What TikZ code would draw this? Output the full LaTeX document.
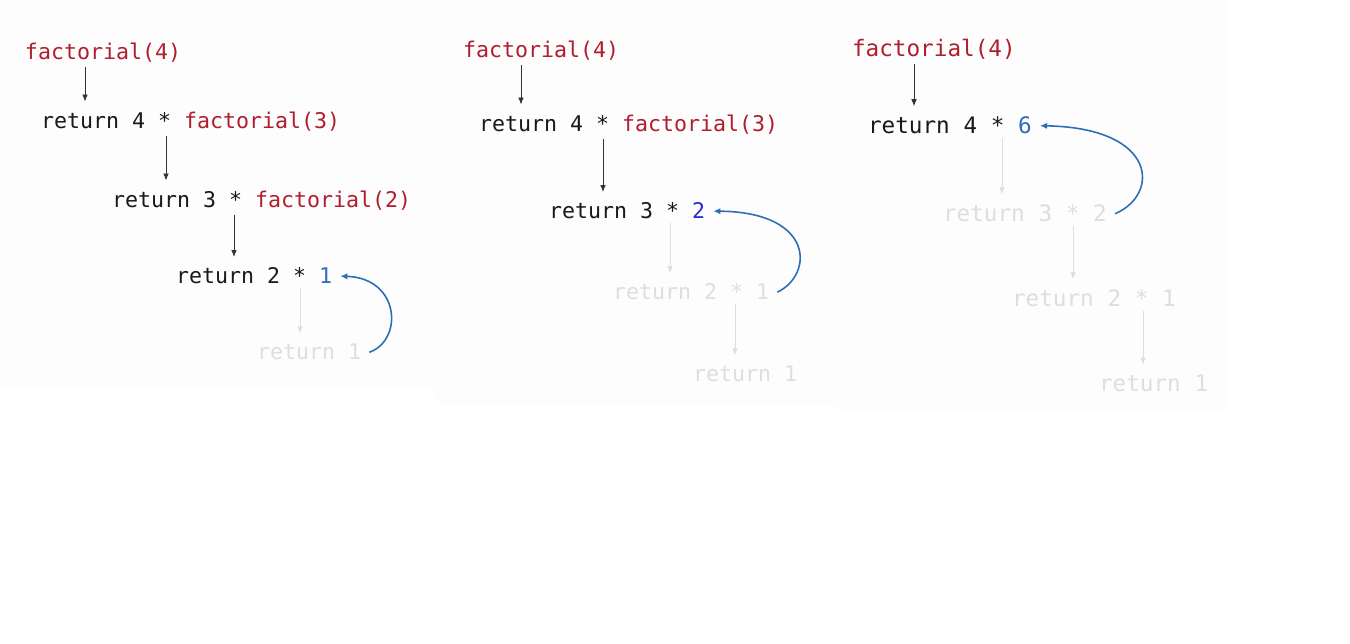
\documentclass[tikz,border=0pt]{standalone}
\usepackage{fontspec}
\usepackage{xcolor}
\usetikzlibrary{arrows.meta}
\newfontfamily\codefont{DejaVu Sans Mono}
\definecolor{callred}{HTML}{B01E2E}
\definecolor{retblue}{HTML}{2C6DB8}
\definecolor{valblue}{HTML}{2A2AD6}
\definecolor{fadegray}{HTML}{DEDEDE}
\definecolor{panelgray}{HTML}{FDFDFD}
\tikzset{
  code/.style={anchor=text, inner xsep=4.5pt, inner ysep=2pt, text=black!90,
    font=\codefont\fontsize{12.3}{14}\selectfont},
  bigcode/.style={code, font=\codefont\fontsize{12.9}{15}\selectfont},
  faded/.style={text=fadegray},
  callarrow/.style={-{Latex[length=4pt,width=3.2pt]}, line width=0.5pt, draw=black!80, shorten >=4pt},
  fadedarrow/.style={callarrow, draw=fadegray},
  returnarrow/.style={-{Latex[length=4pt,width=3.6pt]}, line width=0.9pt, draw=retblue},
}

\begin{document}
\begin{tikzpicture}[x=0.02cm,y=-0.02cm]
    \useasboundingbox (0,0) rectangle (1350,644);
    \fill[panelgray] (0,0) rectangle (435,388);
    \fill[panelgray] (435,0) rectangle (836,405);
    \fill[panelgray] (836,0) rectangle (1226,412);

    \node[code, text=callred] (f1) at (25,60) {factorial(4)};
    \node[code] (r14) at (41,129) {return 4 * \textcolor{callred}{factorial(3)}};
    \node[code] (r13) at (112,208) {return 3 * \textcolor{callred}{factorial(2)}};
    \node[code] (r12) at (176,284) {return 2 * \textcolor{retblue}{1}};
    \node[code, faded] (d11) at (257,360) {return 1};
    \draw[callarrow] (f1.south -| 85,0) -- (r14.north -| 85,0);
    \draw[callarrow] (r14.south -| 166,0) -- (r13.north -| 166,0);
    \draw[callarrow] (r13.south -| 234,0) -- (r12.north -| 234,0);
    \draw[fadedarrow] (r12.south -| 300,0) -- (d11.north -| 300,0);
    \draw[returnarrow] (d11.east) .. controls +(34,-12) and +(60,2) .. (r12.east);

    \node[code, text=callred] (f2) at (463,58) {factorial(4)};
    \node[code] (r24) at (479,132) {return 4 * \textcolor{callred}{factorial(3)}};
    \node[code] (r23) at (549,219) {return 3 * \textcolor{valblue}{2}};
    \node[code, faded] (d22) at (613,300) {return 2 * 1};
    \node[code, faded] (d21) at (693,382) {return 1};
    \draw[callarrow] (f2.south -| 521,0) -- (r24.north -| 521,0);
    \draw[callarrow] (r24.south -| 603,0) -- (r23.north -| 603,0);
    \draw[fadedarrow] (r23.south -| 670,0) -- (d22.north -| 670,0);
    \draw[fadedarrow] (d22.south -| 735,0) -- (d21.north -| 735,0);
    \draw[returnarrow] (d22.east) .. controls +(36,-17) and +(102,1) .. (r23.east);

    \node[bigcode, text=callred] (f3) at (852,57) {factorial(4)};
    \node[bigcode] (r34) at (868,134) {return 4 * \textcolor{retblue}{6}};
    \node[bigcode, faded] (d33) at (943,222) {return 3 * 2};
    \node[bigcode, faded] (d32) at (1012,307) {return 2 * 1};
    \node[bigcode, faded] (d31) at (1099,392) {return 1};
    \draw[callarrow] (f3.south -| 914,0) -- (r34.north -| 914,0);
    \draw[fadedarrow] (r34.south -| 1002,0) -- (d33.north -| 1002,0);
    \draw[fadedarrow] (d33.south -| 1073,0) -- (d32.north -| 1073,0);
    \draw[fadedarrow] (d32.south -| 1143,0) -- (d31.north -| 1143,0);
    \draw[returnarrow] (d33.east) .. controls +(45,-19) and +(118,2) .. (r34.east);
\end{tikzpicture}
\end{document}
